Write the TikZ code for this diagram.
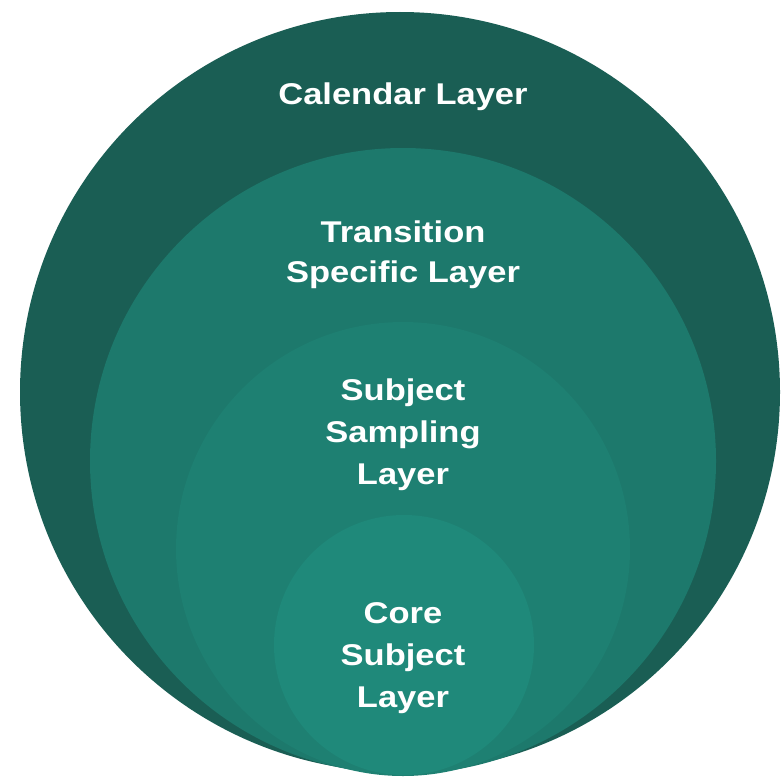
\documentclass[tikz,border=0pt]{standalone}
\usepackage{fontspec}
\setmainfont{Liberation Sans}[FakeStretch=1.15]
\definecolor{cA}{RGB}{26,94,84}
\definecolor{cB}{RGB}{29,121,108}
\definecolor{cC}{RGB}{30,128,114}
\definecolor{cD}{RGB}{31,137,122}
\begin{document}
\begin{tikzpicture}[x=1pt,y=-1pt,
  lab/.style={text=white,font=\bfseries\fontsize{30}{42}\selectfont,align=center,anchor=base,inner sep=0pt}]
\useasboundingbox (0,0) rectangle (781,776);
\fill[cA] (400,392) circle (380);
\fill[cB] (403,461) circle (313);
\fill[cC] (403,549) circle (227);
\fill[cD] (404,645) circle (130);
\node[lab] (cal) at (403,104) {Calendar Layer};
\node[lab,font=\bfseries\fontsize{30}{40}\selectfont] (tra) at (403,282) {Transition\\Specific Layer};
\node[lab] (sam) at (403,484) {Subject\\Sampling\\Layer};
\node[lab] (cor) at (403,707) {Core\\Subject\\Layer};
\end{tikzpicture}
\end{document}
